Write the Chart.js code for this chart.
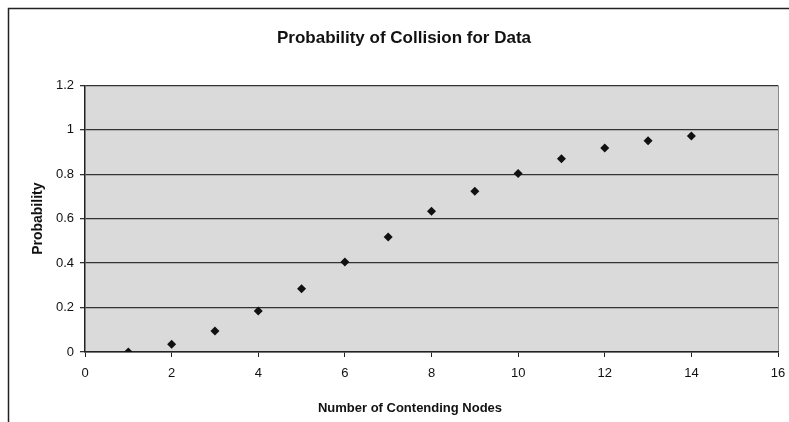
<!DOCTYPE html>
<html>
<head>
<meta charset="utf-8">
<script src="https://cdn.jsdelivr.net/npm/chart.js@4.4.1/dist/chart.umd.min.js"></script>
<style>
  html, body { margin: 0; padding: 0; background: #fff; }
  #wrap { width: 789px; height: 422px; }
</style>
</head>
<body>
<div id="wrap"><canvas id="chart" width="789" height="422"></canvas></div>
<script>
const nodes = [1, 2, 3, 4, 5, 6, 7, 8, 9, 10, 11, 12, 13, 14];
const probability = [0.0, 0.035, 0.094, 0.185, 0.285, 0.405, 0.518, 0.633, 0.723, 0.804, 0.87, 0.918, 0.951, 0.972];
const xTicks = [0, 2, 4, 6, 8, 10, 12, 14, 16];
const yTicks = [0, 0.2, 0.4, 0.6, 0.8, 1, 1.2];
const xTitle = "Number of Contending Nodes";

const points = nodes.map((n, i) => ({ x: n, y: probability[i] }));

// grey plot area, page frame lines and the x axis caption
const backdrop = {
  id: "backdrop",
  beforeDraw(chart) {
    const { ctx, chartArea } = chart;
    ctx.save();
    ctx.fillStyle = "#dadada";
    ctx.fillRect(chartArea.left, chartArea.top, chartArea.right - chartArea.left, chartArea.bottom - chartArea.top);
    ctx.strokeStyle = "#222";
    ctx.lineWidth = 1.5;
    ctx.beginPath();
    ctx.moveTo(8.5, 422);
    ctx.lineTo(8.5, 8.5);
    ctx.lineTo(789, 8.5);
    ctx.stroke();
    ctx.strokeStyle = "#888";
    ctx.lineWidth = 1;
    ctx.beginPath();
    ctx.moveTo(chartArea.right + 0.5, chartArea.top);
    ctx.lineTo(chartArea.right + 0.5, chartArea.bottom);
    ctx.stroke();
    ctx.restore();
  },
  afterDraw(chart) {
    const { ctx } = chart;
    ctx.save();
    ctx.fillStyle = "#111";
    ctx.font = "bold 13px 'Liberation Sans'";
    ctx.textAlign = "center";
    ctx.textBaseline = "middle";
    ctx.fillText(xTitle, 410, 408);
    ctx.restore();
  }
};

const ctx = document.getElementById("chart").getContext("2d");
new Chart(ctx, {
  type: "scatter",
  data: {
    datasets: [
      {
        label: "Probability",
        data: points,
        pointStyle: "rectRot",
        pointRadius: 4.5,
        backgroundColor: "#111",
        borderColor: "#111",
        borderWidth: 0,
      },
    ],
  },
  options: {
    responsive: false,
    animation: false,
    layout: { padding: { top: 0, left: 30, right: 11, bottom: 0 } },
    plugins: {
      legend: { display: false },
      tooltip: { enabled: false },
      title: {
        display: true,
        text: "Probability of Collision for Data",
        color: "#111",
        font: { family: "Liberation Sans", size: 17, weight: "bold" },
        padding: { top: 28, bottom: 37 },
      },
    },
    scales: {
      x: {
        type: "linear",
        min: 0,
        max: 16,
        afterBuildTicks(scale) {
          scale.ticks = xTicks.map((v) => ({ value: v }));
        },
        afterFit(scale) {
          scale.height = 70;
          scale.paddingLeft = 0;
          scale.paddingRight = 0;
        },
        grid: {
          drawOnChartArea: false,
          drawTicks: true,
          tickLength: 5,
          color: "#222",
        },
        border: { display: true, color: "#222", width: 1.5 },
        ticks: {
          color: "#111",
          padding: 9,
          maxRotation: 0,
          font: { family: "Liberation Sans", size: 13 },
        },
      },
      y: {
        type: "linear",
        min: 0,
        max: 1.2,
        afterBuildTicks(scale) {
          scale.ticks = yTicks.map((v) => ({ value: v }));
        },
        afterFit(scale) {
          scale.width = 55;
        },
        grid: {
          color: "#333",
          lineWidth: 1.3,
          drawTicks: true,
          tickLength: 5,
        },
        border: { display: true, color: "#222", width: 1.5 },
        ticks: {
          color: "#111",
          padding: 6,
          font: { family: "Liberation Sans", size: 13 },
          callback: (v) => String(Math.round(v * 10) / 10),
        },
        title: {
          display: true,
          text: "Probability",
          color: "#111",
          font: { family: "Liberation Sans", size: 14, weight: "bold" },
          padding: { top: 0, bottom: 0 },
        },
      },
    },
  },
  plugins: [backdrop],
});
</script>
</body>
</html>
